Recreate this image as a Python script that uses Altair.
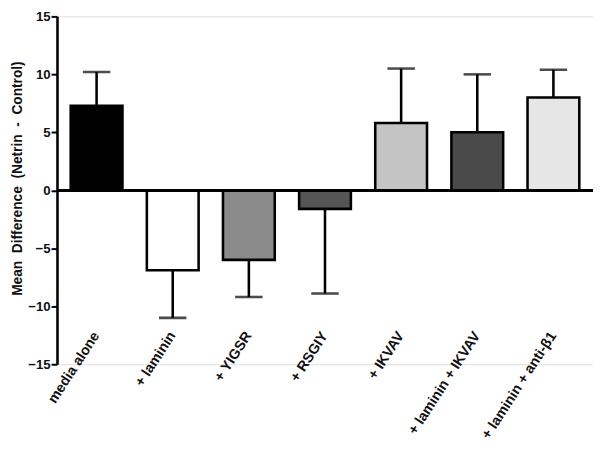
import altair as alt
import pandas as pd

categories = ["media alone", "+ laminin", "+ YIGSR", "+ RSGIY", "+ IKVAV",
              "+ laminin + IKVAV", "+ laminin + anti-\u03b21"]
means = [7.3, -6.9, -6.0, -1.6, 5.8, 5.0, 8.0]
err_ends = [10.2, -11.0, -9.2, -8.9, 10.5, 10.0, 10.4]
fills = ["#000000", "#ffffff", "#8a8a8a", "#555555", "#c4c4c4", "#4a4a4a", "#e6e6e6"]

df = pd.DataFrame({"cat": categories, "mean": means, "err": err_ends, "fill": fills})

FONT = "Liberation Sans"
xscale = alt.Scale(domain=categories, paddingInner=0.32, paddingOuter=0.18)
yscale = alt.Scale(domain=[-15, 15], nice=False, zero=False)

x_enc = alt.X("cat:N", scale=xscale, sort=categories, title=None,
              axis=alt.Axis(labelAngle=-57, labelFont=FONT, labelFontSize=14.5,
                            labelFontWeight="bold", labelColor="#111",
                            domain=False, ticks=False, offset=-34, labelPadding=2,
                            labelLimit=200))

title_txt = "Mean\u00a0\u00a0Difference\u00a0\u00a0(Netrin\u00a0\u00a0-\u00a0\u00a0Control)"

bars = alt.Chart(df).mark_bar(stroke="black", strokeWidth=2.6).encode(
    x=x_enc,
    y=alt.Y("mean:Q", scale=yscale, title=title_txt,
            axis=alt.Axis(values=[-15, -10, -5, 0, 5, 10, 15], grid=False,
                          domainColor="black", domainWidth=2.6,
                          tickColor="black", tickWidth=2, tickSize=6,
                          labelFont=FONT, labelFontSize=13.5, labelFontWeight="bold",
                          labelColor="#111", labelPadding=1,
                          titleFont=FONT, titleFontSize=14, titleFontWeight="bold",
                          titleColor="#111", titlePadding=3, titleY=165)),
    y2=alt.datum(0),
    fill=alt.Fill("fill:N", scale=None),
)

err = alt.Chart(df).mark_rule(color="black", strokeWidth=2.6).encode(
    x=alt.X("cat:N", scale=xscale, sort=categories),
    y=alt.Y("mean:Q", scale=yscale),
    y2="err:Q",
)

caps = alt.Chart(df).mark_tick(color="black", thickness=2.6, size=28).encode(
    x=alt.X("cat:N", scale=xscale, sort=categories),
    y=alt.Y("err:Q", scale=yscale),
)

zero = alt.Chart(df).mark_rule(color="black", strokeWidth=2.6).encode(
    y=alt.datum(0, scale=yscale)
)

chart = alt.layer(err, caps, bars, zero).properties(
    width=547, height=355,
    autosize=alt.AutoSizeParams(type="none"),
    padding={"left": 50, "top": 4, "right": 0, "bottom": 85},
).configure_view(stroke=None).configure(background="white")

chart.save("out.html", embed_options={"renderer": "svg", "actions": False})
